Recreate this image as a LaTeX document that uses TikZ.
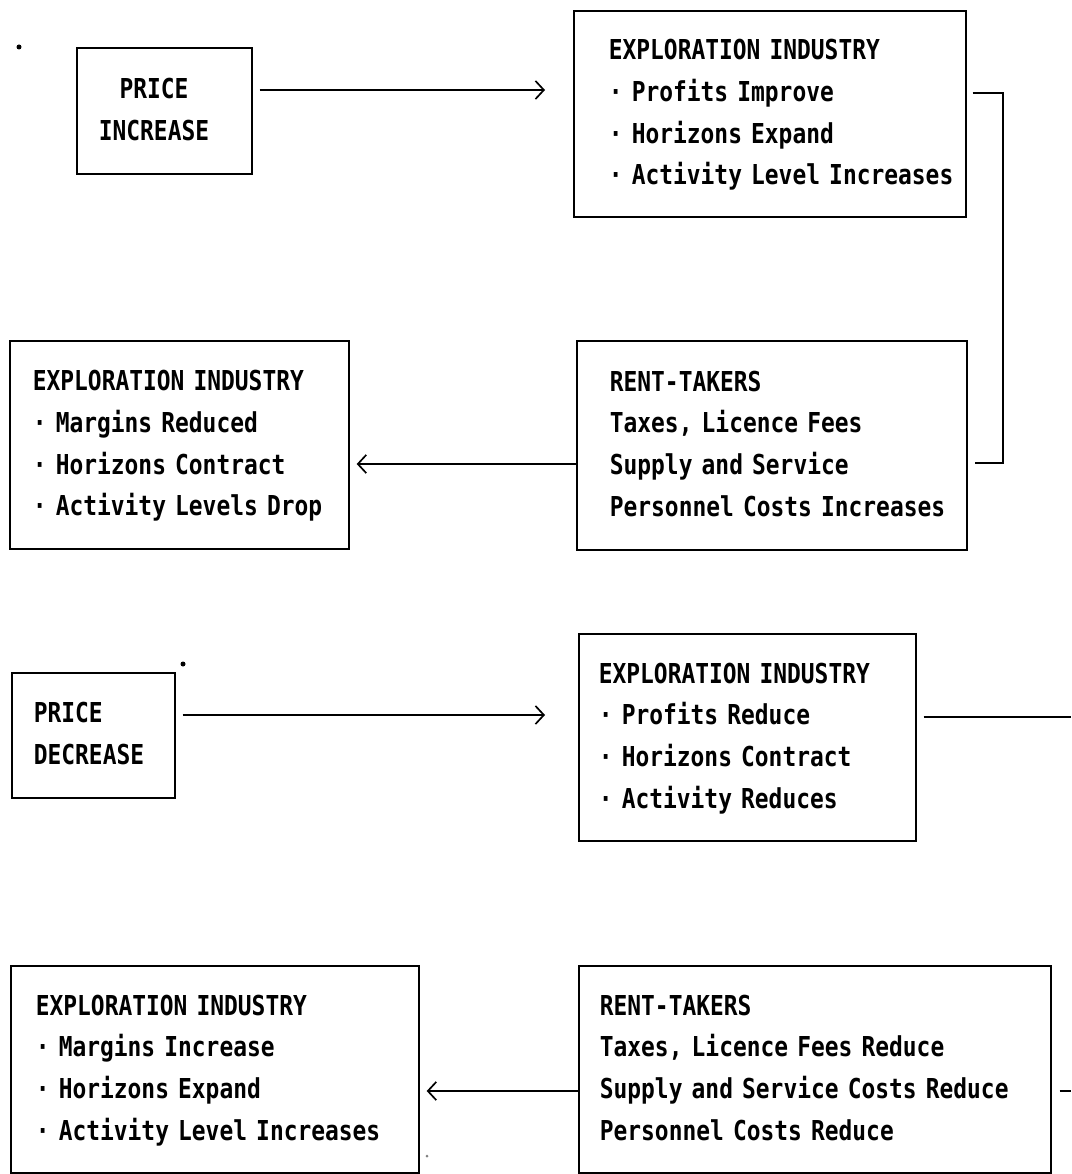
\documentclass[tikz,border=0pt]{standalone}
\usepackage{fontspec}
\usetikzlibrary{arrows.meta}

\newfontfamily\typer[FakeStretch=0.835]{DejaVu Sans Mono}
\newlength\pxu
\setlength\pxu{0.025cm}
\newcommand\pad[3][l]{\hspace*{#2\pxu}\begin{tabular}{@{}#1@{}}#3\end{tabular}}

\tikzset{
  panel/.style={draw, line width=1.2pt, anchor=north west, inner sep=0pt, align=left,
    font=\typer\bfseries\fontsize{19.5}{29.7}\selectfont},
  flow/.style={-{Straight Barb[length=6pt,width=13pt]}, line width=1.2pt},
  wire/.style={line width=1.2pt},
}

\begin{document}
\begin{tikzpicture}[x=0.025cm, y=-0.025cm]
  \useasboundingbox (0,0) rectangle (1071,1174);

  % price increase cycle
  \node[panel, text width=175\pxu, minimum height=126\pxu] (inc) at (76,47)
    {\pad[c]{22}{PRICE\\INCREASE}};
  \node[panel, text width=392\pxu, minimum height=206\pxu] (expup) at (573,10)
    {\pad{35}{EXPLORATION INDUSTRY\\· Profits Improve\\· Horizons Expand\\· Activity Level Increases}};
  \node[panel, text width=390\pxu, minimum height=209\pxu] (rentup) at (576,340)
    {\pad{33}{RENT-TAKERS\\Taxes, Licence Fees\\Supply and Service\\Personnel Costs Increases}};
  \node[panel, text width=339\pxu, minimum height=208\pxu] (expdown) at (9,340)
    {\pad{23}{EXPLORATION INDUSTRY\\· Margins Reduced\\· Horizons Contract\\· Activity Levels Drop}};

  % price decrease cycle
  \node[panel, text width=163\pxu, minimum height=125\pxu] (dec) at (11,672)
    {\pad{22}{PRICE\\DECREASE}};
  \node[panel, text width=337\pxu, minimum height=207\pxu] (expcut) at (578,633)
    {\pad{20}{EXPLORATION INDUSTRY\\· Profits Reduce\\· Horizons Contract\\· Activity Reduces}};
  \node[panel, text width=472\pxu, minimum height=207\pxu] (rentdown) at (578,965)
    {\pad{21}{RENT-TAKERS\\Taxes, Licence Fees Reduce\\Supply and Service Costs Reduce\\Personnel Costs Reduce}};
  \node[panel, text width=408\pxu, minimum height=207\pxu] (expup2) at (10,965)
    {\pad{25}{EXPLORATION INDUSTRY\\· Margins Increase\\· Horizons Expand\\· Activity Level Increases}};

  \coordinate (turnA) at (1003,93);
  \coordinate (edgeA) at (1071,717);
  \coordinate (edgeB) at (1071,1091);

  \draw[flow, shorten <=7\pxu, shorten >=28\pxu] (inc.east |- 0,90) -- (expup.west |- 0,90);
  \draw[wire, shorten <=6\pxu, shorten >=7\pxu] (expup.east |- turnA) -- (turnA) |- (rentup.east |- 0,463);
  \draw[flow, shorten >=7\pxu] (rentup.west |- 0,464) -- (expdown.east |- 0,464);

  \draw[flow, shorten <=7\pxu, shorten >=33\pxu] (dec.east |- 0,715) -- (expcut.west |- 0,715);
  \draw[wire, shorten <=7\pxu] (expcut.east |- edgeA) -- (edgeA);
  \draw[wire, shorten <=8\pxu] (rentdown.east |- edgeB) -- (edgeB);
  \draw[flow, shorten >=7\pxu] (rentdown.west |- 0,1091) -- (expup2.east |- 0,1091);

  % specks
  \fill (19,47) circle (2.5\pxu);
  \fill (183,664) circle (2.5\pxu);
  \fill[gray] (427,1156) circle (1.5\pxu);
\end{tikzpicture}
\end{document}
